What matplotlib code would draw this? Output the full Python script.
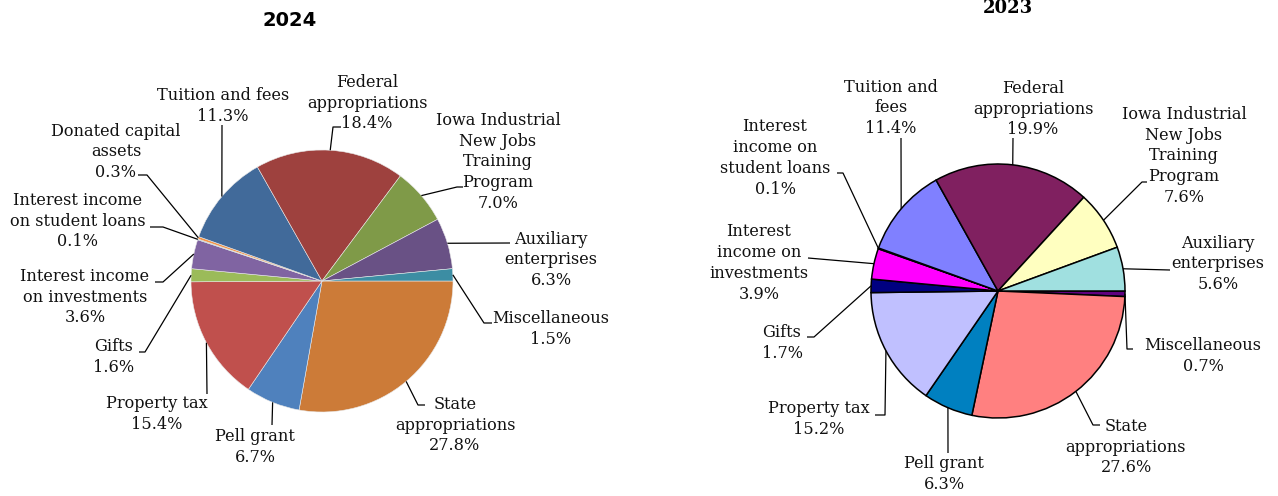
import numpy as np
import matplotlib
matplotlib.use("Agg")
import matplotlib.pyplot as plt

# ---- data (clockwise from 3 o'clock) ----
cats_2024 = ["State\nappropriations", "Pell grant", "Property tax", "Gifts",
             "Interest income\non investments", "Interest income\non student loans",
             "Donated capital\nassets", "Tuition and fees", "Federal\nappropriations",
             "Iowa Industrial\nNew Jobs\nTraining\nProgram", "Auxiliary\nenterprises",
             "Miscellaneous"]
vals_2024 = [27.8, 6.7, 15.4, 1.6, 3.6, 0.1, 0.3, 11.3, 18.4, 7.0, 6.3, 1.5]
cols_2024 = ["#CC7B38", "#4F81BD", "#C0504D", "#9BBB59", "#8064A2", "#4BACC6",
             "#F79646", "#416A9A", "#9E413E", "#7F9A48", "#695185", "#3C8DA3"]

cats_2023 = ["Miscellaneous", "State\nappropriations", "Pell grant", "Property tax",
             "Gifts", "Interest\nincome on\ninvestments", "Interest\nincome on\nstudent loans",
             "Tuition and\nfees", "Federal\nappropriations",
             "Iowa Industrial\nNew Jobs\nTraining\nProgram", "Auxiliary\nenterprises"]
vals_2023 = [0.7, 27.6, 6.3, 15.2, 1.7, 3.9, 0.1, 11.4, 19.9, 7.6, 5.6]
cols_2023 = ["#600080", "#FF8080", "#0080C0", "#C0C0FF", "#000080", "#FF00FF",
             "#800080", "#8080FF", "#802060", "#FFFFC0", "#A0E0E0"]

# ---- layout (pixel positions, y downwards) ----
W, H = 1278, 496
center_2024, r_2024 = (322, 281), 131
center_2023, r_2023 = (998, 291), 127

text_2024 = [(455, 425), (255, 447), (157, 414), (114, 357), (85, 297), (78, 221),
             (116, 152), (223, 106), (367, 103), (498, 162), (551, 260), (551, 329)]
lead_2024 = [[(418, 405), (425, 405)], [(272, 425)], [(207, 394)],
             [(145, 352), (139, 352)], [(163, 282), (155, 282)],
             [(163, 227), (150, 227)], [(147, 175), (138, 175)], [(222, 125)],
             [(333, 127), (341, 127)], [(457, 187), (463, 187)], [(510, 243)],
             [(484, 323), (492, 323)]]

text_2023 = [(1203, 356), (1126, 447), (944, 474), (819, 419), (782, 343), (759, 263),
             (775, 158), (891, 108), (1033, 109), (1184, 156), (1218, 264)]
lead_2023 = [[(1127, 349), (1133, 349)], [(1093, 425), (1100, 425)], [(948, 453)],
             [(885, 415), (875, 415)], [(814, 337), (807, 337)], [(808, 258)],
             [(843, 173), (837, 173)], [(901, 138)], [(1013, 138)],
             [(1142, 182), (1147, 182)], [(1170, 270)]]

label_font = dict(family="DejaVu Serif", fontsize=11.6, color="#111111")

fig = plt.figure(figsize=(W / 100, H / 100), dpi=100)
ax = fig.add_axes([0, 0, 1, 1])


def draw_pie(vals, cats, cols, center, radius, texts, leads, edge, lw):
    # y axis is inverted, so counterclock=True reads clockwise on screen
    wedges, _ = ax.pie(vals, colors=cols, startangle=0, counterclock=True,
                       center=center, radius=radius, frame=True,
                       wedgeprops=dict(edgecolor=edge, linewidth=lw))
    for w, cat, v, (tx, ty), pts in zip(wedges, cats, vals, texts, leads):
        mid = np.deg2rad((w.theta1 + w.theta2) / 2)
        x0 = center[0] + radius * np.cos(mid)
        y0 = center[1] + radius * np.sin(mid)
        xs = [x0] + [p[0] for p in pts]
        ys = [y0] + [p[1] for p in pts]
        ax.plot(xs, ys, color="black", lw=0.9, solid_capstyle="butt")
        ax.text(tx, ty, f"{cat}\n{v:.1f}%", ha="center", va="center",
                linespacing=1.3, **label_font)


draw_pie(vals_2024, cats_2024, cols_2024, center_2024, r_2024, text_2024, lead_2024,
         "#e8e8e8", 0.4)
draw_pie(vals_2023, cats_2023, cols_2023, center_2023, r_2023, text_2023, lead_2023,
         "black", 1.1)

ax.text(290, 20, "2024", ha="center", va="center", fontsize=14,
        fontweight="bold", family="DejaVu Sans")
ax.text(1008, 8, "2023", ha="center", va="center", fontsize=13,
        fontweight="bold", family="DejaVu Serif")

ax.set_xlim(0, W)
ax.set_ylim(H, 0)
ax.set_aspect("auto")
ax.axis("off")

fig.savefig("out.png", dpi=100)
